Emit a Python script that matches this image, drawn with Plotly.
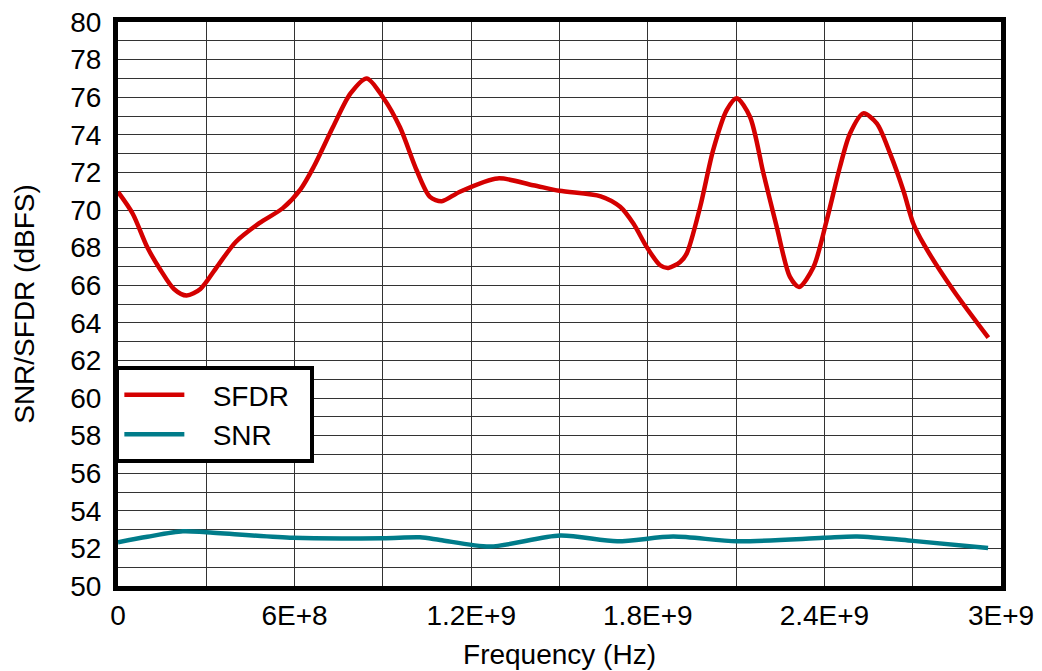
import plotly.graph_objects as go

# SFDR (dBFS) vs frequency (Hz)
sfdr_freq = [0, 0.05e9, 0.10e9, 0.145e9, 0.19e9, 0.233e9, 0.28e9, 0.335e9, 0.40e9, 0.48e9,
             0.56e9, 0.62e9, 0.665e9, 0.73e9, 0.79e9, 0.845e9, 0.90e9, 0.958e9, 1.015e9, 1.06e9,
             1.10e9, 1.16e9, 1.29e9, 1.41e9, 1.50e9, 1.64e9, 1.706e9, 1.751e9, 1.796e9, 1.842e9,
             1.87e9, 1.91e9, 1.932e9, 1.978e9, 2.022e9, 2.068e9, 2.102e9, 2.147e9, 2.193e9, 2.238e9,
             2.283e9, 2.314e9, 2.363e9, 2.408e9, 2.453e9, 2.487e9, 2.532e9, 2.578e9, 2.623e9, 2.668e9,
             2.702e9, 2.736e9, 2.838e9, 2.957e9]
sfdr_vals = [70.96, 69.8, 68.0, 66.8, 65.8, 65.45, 65.8, 66.95, 68.3, 69.3,
             70.1, 71.1, 72.3, 74.4, 76.2, 77.0, 76.0, 74.4, 72.1, 70.7,
             70.47, 70.96, 71.68, 71.32, 71.02, 70.73, 70.17, 69.28, 68.04, 67.06,
             66.92, 67.24, 67.68, 70.17, 73.18, 75.31, 75.94, 74.96, 71.94, 69.10,
             66.44, 65.91, 66.97, 69.46, 72.30, 74.07, 75.14, 74.61, 73.01, 71.05,
             69.28, 68.22, 65.73, 63.21]

# SNR (dBFS) vs frequency (Hz)
snr_freq = [0, 0.10e9, 0.22e9, 0.30e9, 0.595e9, 0.90e9, 1.026e9, 1.094e9, 1.264e9, 1.502e9,
            1.696e9, 1.886e9, 2.103e9, 2.396e9, 2.511e9, 2.701e9, 2.956e9]
snr_vals = [52.33, 52.62, 52.91, 52.86, 52.56, 52.54, 52.59, 52.45, 52.10, 52.68,
            52.38, 52.63, 52.38, 52.56, 52.63, 52.40, 52.02]

series_names = ["SFDR", "SNR"]

x_tickvals = [0, 6e8, 1.2e9, 1.8e9, 2.4e9, 3e9]
x_ticktext = ["0", "6E+8", "1.2E+9", "1.8E+9", "2.4E+9", "3E+9"]
y_tickvals = list(range(50, 81, 2))

font_family = "Liberation Sans, Arial, sans-serif"
NB = "\u00a0"

fig = go.Figure()
fig.add_trace(go.Scatter(x=sfdr_freq, y=sfdr_vals, mode="lines",
                         name=NB * 3 + series_names[0] + NB * 2,
                         line=dict(color="#d40000", width=4.5, shape="spline", smoothing=0.8)))
fig.add_trace(go.Scatter(x=snr_freq, y=snr_vals, mode="lines",
                         name=NB * 3 + series_names[1],
                         line=dict(color="#007c8a", width=4.5, shape="spline", smoothing=0.8)))

fig.update_layout(
    width=1034, height=663,
    margin=dict(l=110, r=41, t=14, b=85),
    paper_bgcolor="white", plot_bgcolor="white",
    font=dict(family=font_family, size=28, color="black"),
    showlegend=True,
    legend=dict(x=-0.003, y=0.39, xanchor="left", yanchor="top",
                bgcolor="white", bordercolor="black", borderwidth=4,
                font=dict(size=28), itemwidth=60),
    xaxis=dict(range=[0, 3e9], tickvals=x_tickvals, ticktext=x_ticktext, automargin=False,
               showgrid=True, gridcolor="#333333", gridwidth=1,
               minor=dict(tickvals=[3e8, 9e8, 1.5e9, 2.1e9, 2.7e9], showgrid=True,
                          gridcolor="#333333", gridwidth=1),
               showline=True, linecolor="black", linewidth=5, mirror=True,
               ticks="", zeroline=False, tickfont=dict(size=28), ticklabeloverflow="allow",
               title=dict(text="Frequency (Hz)", font=dict(size=28), standoff=16)),
    yaxis=dict(range=[50, 80], tickvals=y_tickvals, automargin=False,
               showgrid=True, gridcolor="#333333", gridwidth=1,
               minor=dict(dtick=1, showgrid=True, gridcolor="#333333", gridwidth=1),
               showline=True, linecolor="black", linewidth=5, mirror=True,
               ticks="", zeroline=False, ticklabelstandoff=6, tickfont=dict(size=28),
               ticklabeloverflow="allow",
               title=dict(text="SNR/SFDR (dBFS)", font=dict(size=28), standoff=29)),
)

fig.write_html("out.html")
